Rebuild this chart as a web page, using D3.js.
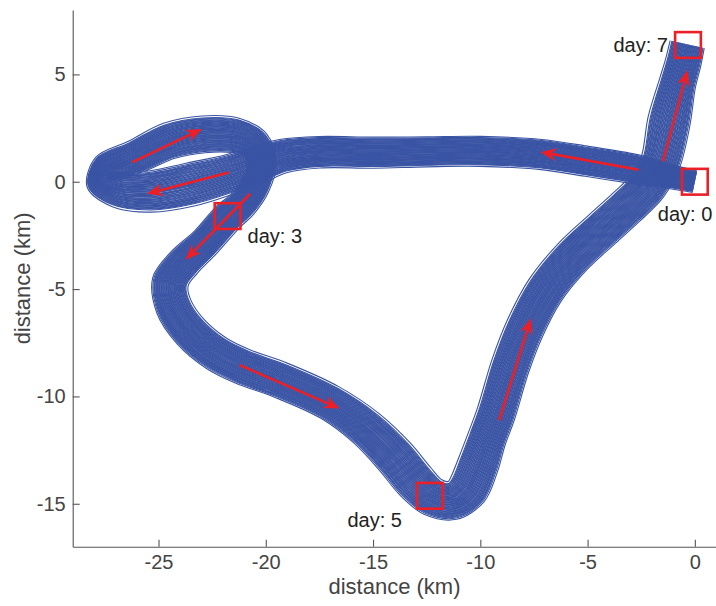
<!DOCTYPE html>
<html>
<head>
<meta charset="utf-8">
<script src="https://cdn.jsdelivr.net/npm/d3@7"></script>
<style>
    body { margin: 0; background: #fff; }
</style>
</head>
<body>
<track-chart></track-chart>
<script>
// centre line of the ensemble (km), in time order: day 0 -> day 7
const pathX = [0.0, -1.2, -2.6, -5.0, -7.2, -10.0, -12.5, -15.0, -17.5, -19.2, -20.5, -21.6, -23.5, -25.4, -27.0, -27.8,
               -27.6, -26.1, -24.5, -22.9, -21.4, -20.5, -20.2, -20.5, -21.1, -21.75, -22.8, -23.8, -24.45, -24.3, -23.5,
               -22.3, -21.1, -19.3, -17.0, -15.3, -14.0, -13.0, -12.2, -11.3, -10.6, -10.1, -9.7, -9.26, -8.6, -7.9, -7.0,
               -5.7, -4.3, -3.2, -2.2, -1.6, -1.2, -0.8, -0.55, -0.35];
const pathY = [0.0, 0.25, 0.56, 0.95, 1.28, 1.42, 1.4, 1.36, 1.38, 1.2, 0.75, 0.38, -0.12, -0.45, -0.35, 0.1,
               0.6, 1.15, 1.9, 2.2, 2.15, 1.72, 0.85, -0.2, -1.05, -1.62, -2.8, -3.75, -4.65, -5.8, -7.0,
               -8.0, -8.6, -9.25, -10.3, -11.5, -12.8, -14.0, -14.7, -14.85, -14.35, -13.2, -12.0, -10.8, -8.6, -6.8, -5.1,
               -3.5, -2.2, -1.2, -0.2, 0.9, 2.8, 4.6, 5.5, 6.4];
// half width of the ensemble at each centre point (km)
const pathSpread = [0.45, 0.5, 0.6, 0.62, 0.62, 0.62, 0.62, 0.64, 0.65, 0.7, 0.8, 0.82, 0.9, 0.85, 0.72, 0.55,
                    0.55, 0.7, 0.76, 0.76, 0.72, 0.65, 0.6, 0.6, 0.62, 0.65, 0.65, 0.7, 0.75, 0.75, 0.75,
                    0.75, 0.75, 0.75, 0.75, 0.8, 0.85, 0.85, 0.8, 0.8, 0.85, 0.85, 0.8, 0.8, 0.8, 0.8, 0.8,
                    0.8, 0.8, 0.8, 0.8, 0.82, 0.88, 0.76, 0.74, 0.72];
// where each ensemble member sits across the band (-1 .. 1)
const memberOffsets = [-1.14, -1.02, -0.97, -0.93, -0.88, -0.85, -0.8, -0.77, -0.73, -0.68, -0.66, -0.61, -0.57, -0.54,
                       -0.5, -0.45, -0.43, -0.38, -0.35, -0.3, -0.27, -0.22, -0.19, -0.15, -0.1, -0.07, -0.03, 0.01,
                       0.05, 0.09, 0.12, 0.17, 0.2, 0.24, 0.29, 0.31, 0.36, 0.4, 0.43, 0.48, 0.51, 0.55, 0.6, 0.63,
                       0.67, 0.71, 0.75, 0.79, 0.82, 0.86, 0.91, 0.94, 0.98, 1.04, 1.12];

const dayLabels = ["day: 0", "day: 3", "day: 5", "day: 7"];
const dayX = [0.0, -21.78, -12.35, -0.32];
const dayY = [0.0, -1.6, -14.63, 6.37];

const arrowX0 = [-2.63, -21.73, -26.23, -20.72, -21.22, -9.12, -1.49];
const arrowY0 = [0.56, 0.43, 0.9, -0.56, -8.54, -11.11, 0.95];
const arrowX1 = [-7.2, -25.54, -22.97, -23.75, -16.56, -7.64, -0.34];
const arrowY1 = [1.39, -0.56, 2.46, -3.64, -10.56, -6.36, 5.2];

const xTicks = [-25, -20, -15, -10, -5, 0];
const yTicks = [-15, -10, -5, 0, 5];

class TrackChart extends HTMLElement {

    constructor() {
        super();
        this.attachShadow({ mode: "open" });
        this.render()
        this.d3_logic()
    }

    d3_logic() {
        const wSvg = 716, hSvg = 606;
        const blue = "#3a54a4", red = "#ec1f26";
        const svg = d3.select(this.shadowRoot)
                    .select("svg")
                    .attr("width", wSvg)
                    .attr("height", hSvg);

        const xScale = d3.scaleLinear([-29, 1], [72.7, 716.3]);
        const yScale = d3.scaleLinear([-17, 8], [546.7, 10]);
        const kmPx = xScale(1) - xScale(0);

        svg.append("clipPath").attr("id", "plot")
            .append("rect")
            .attr("x", xScale(-29)).attr("y", yScale(8))
            .attr("width", xScale(1) - xScale(-29))
            .attr("height", yScale(-17) - yScale(8));

        // ensemble members: the centre line shifted across the band
        const centre = pathX.map((x, i) => [xScale(x), yScale(pathY[i])]);
        const normals = centre.map((p, i) => {
            const a = centre[Math.max(i - 1, 0)];
            const b = centre[Math.min(i + 1, centre.length - 1)];
            const dx = b[0] - a[0], dy = b[1] - a[1];
            const len = Math.hypot(dx, dy);
            return [-dy / len, dx / len];
        });
        const members = memberOffsets.map(o => centre.map((p, i) => [
            p[0] + normals[i][0] * o * pathSpread[i] * kmPx,
            p[1] + normals[i][1] * o * pathSpread[i] * kmPx
        ]));

        const line = d3.line().curve(d3.curveCatmullRom.alpha(0.5));
        svg.append("g")
            .attr("clip-path", "url(#plot)")
            .selectAll("path")
            .data(members)
            .join("path")
            .attr("d", line)
            .attr("fill", "none")
            .attr("stroke", blue)
            .attr("stroke-width", 1.1);

        // axes, matlab style: inward ticks, no box
        const xAxis = svg.append("g")
            .attr("transform", `translate(0,${yScale(-17)})`)
            .call(d3.axisBottom(xScale).tickValues(xTicks).tickFormat(d => String(d))
                .tickSizeInner(-7).tickSizeOuter(0).tickPadding(8));
        const yAxis = svg.append("g")
            .attr("transform", `translate(${xScale(-29)},0)`)
            .call(d3.axisLeft(yScale).tickValues(yTicks).tickFormat(d => String(d))
                .tickSizeInner(-7).tickSizeOuter(0).tickPadding(7));
        [xAxis, yAxis].forEach(ax => {
            ax.select(".domain").attr("stroke", "#555").attr("stroke-width", 1.1);
            ax.selectAll(".tick line").attr("stroke", "#555").attr("stroke-width", 1.1);
            ax.selectAll(".tick text")
                .attr("fill", "#444")
                .style("font-family", "'Liberation Sans', Arial, sans-serif")
                .style("font-size", "20px");
        });

        svg.append("text")
            .attr("x", (xScale(-29) + xScale(1)) / 2)
            .attr("y", 594)
            .attr("text-anchor", "middle")
            .attr("class", "lab")
            .text("distance (km)");
        svg.append("text")
            .attr("transform", `translate(29.5,${(yScale(-17) + yScale(8)) / 2}) rotate(-90)`)
            .attr("text-anchor", "middle")
            .attr("class", "lab")
            .text("distance (km)");

        // red arrows
        const arrows = arrowX0.map((x, i) => {
            const x0 = xScale(x), y0 = yScale(arrowY0[i]);
            const x1 = xScale(arrowX1[i]), y1 = yScale(arrowY1[i]);
            const len = Math.hypot(x1 - x0, y1 - y0);
            const ux = (x1 - x0) / len, uy = (y1 - y0) / len;
            return { x0, y0, x1, y1, ux, uy };
        });
        const headL = 16, headW = 6.5, notch = 11;
        const ag = svg.append("g");
        ag.selectAll("line")
            .data(arrows)
            .join("line")
            .attr("x1", d => d.x0).attr("y1", d => d.y0)
            .attr("x2", d => d.x1 - d.ux * notch).attr("y2", d => d.y1 - d.uy * notch)
            .attr("stroke", red)
            .attr("stroke-width", 2.6);
        ag.selectAll("polygon")
            .data(arrows)
            .join("polygon")
            .attr("points", d => {
                const bx = d.x1 - d.ux * headL, by = d.y1 - d.uy * headL;
                const nx = d.x1 - d.ux * notch, ny = d.y1 - d.uy * notch;
                return [[d.x1, d.y1], [bx - d.uy * headW, by + d.ux * headW], [nx, ny],
                        [bx + d.uy * headW, by - d.ux * headW]].join(" ");
            })
            .attr("fill", red);

        // day markers
        const half = 0.6;
        svg.append("g")
            .selectAll("rect")
            .data(dayX)
            .join("rect")
            .attr("x", (d, i) => xScale(d - half))
            .attr("y", (d, i) => yScale(dayY[i] + half))
            .attr("width", xScale(half) - xScale(-half))
            .attr("height", yScale(-half) - yScale(half))
            .attr("fill", "none")
            .attr("stroke", red)
            .attr("stroke-width", 2.6);

        // label placement beside each box (px)
        const labelDx = [-37, 20, -28, -20];
        const labelDy = [39, 27, 31, 7];
        const labelAnchor = ["start", "start", "end", "end"];
        svg.append("g")
            .selectAll("text")
            .data(dayLabels)
            .join("text")
            .attr("x", (d, i) => xScale(dayX[i]) + labelDx[i])
            .attr("y", (d, i) => yScale(dayY[i]) + labelDy[i])
            .attr("text-anchor", (d, i) => labelAnchor[i])
            .attr("class", "day")
            .text(d => d);
    }

    render() {

        this.shadowRoot.innerHTML = `
            <style>
                svg { display: block; }
                .lab { font-family: 'Liberation Sans', Arial, sans-serif; font-size: 22px; fill: #444; }
                .day { font-family: 'Liberation Sans', Arial, sans-serif; font-size: 20px; fill: #222; }
            </style>
            <svg></svg>
        `
    }
}

customElements.define("track-chart", TrackChart);
</script>
</body>
</html>
